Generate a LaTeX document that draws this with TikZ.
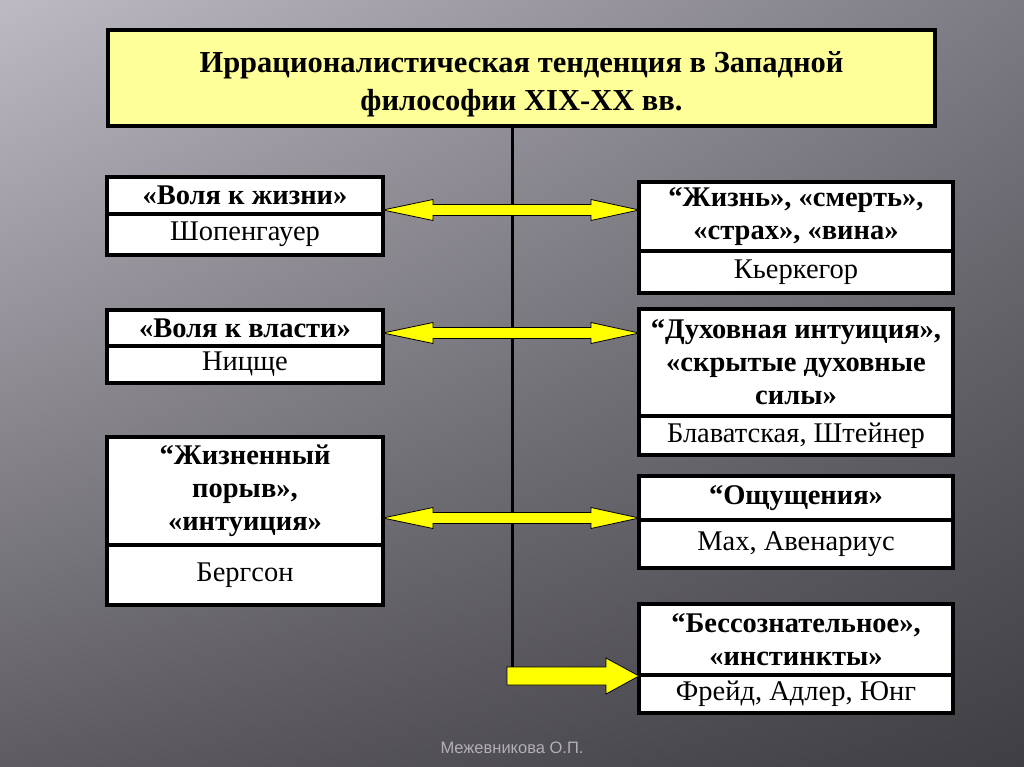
\documentclass[tikz,border=0pt]{standalone}
\usepackage{fontspec}
\setmainfont{Liberation Serif}
\setsansfont{Liberation Sans}
\usetikzlibrary{calc,shadings}
\definecolor{titlefill}{HTML}{FFFF99}
\definecolor{arrowfill}{HTML}{FFFF00}
\definecolor{bgA}{HTML}{BEBAC4}
\definecolor{bgB}{HTML}{7C7A82}
\definecolor{bgC}{HTML}{5E5C62}
\definecolor{bgD}{HTML}{3F3E43}
\definecolor{footer}{HTML}{B2B0B6}
\tikzset{
  boxbase/.style={draw=black, fill=white, line width=3.5pt, outer sep=0pt, inner sep=2pt, align=flush center},
  topbox/.style={boxbase, font=\fontsize{28.5}{33}\selectfont\bfseries},
  botbox/.style={boxbase, font=\fontsize{28.5}{33}\selectfont},
  leftside/.style={minimum width=276pt},
  rightside/.style={minimum width=314pt},
  titlebox/.style={draw=black, fill=titlefill, line width=4.5pt, outer sep=0pt, align=flush center,
     minimum width=827pt, minimum height=96pt, font=\fontsize{30.5}{38}\selectfont\bfseries},
  trunkline/.style={line width=3pt, draw=black},
  yarr/.style={fill=arrowfill, draw=black, line width=0.8pt, line join=miter},
  footertext/.style={text=footer, font=\sffamily\fontsize{16.5}{19}\selectfont}
}
% #1 name, #2 x, #3 y, #4 top height, #5 bottom height, #6 bold text, #7 regular text, #8 side style
\newcommand\twobox[8]{%
  \node[topbox, #8, minimum height=#4pt, anchor=north west] (#1t) at (#2,#3) {#6};
  \node[botbox, #8, minimum height=#5pt, anchor=north] (#1b) at (#1t.south) {#7};}
% #1 left node, #2 right node, #3 y-coordinate name
\newcommand\dblarrow[3]{%
  \coordinate (s) at (#1.east |- #3);
  \coordinate (e) at (#2.west |- #3);
  \draw[yarr] (s) -- ($(s)+(50,-10.5)$) -- ($(s)+(50,-5.5)$) -- ($(e)+(-48,-5.5)$)
    -- ($(e)+(-48,-10.5)$) -- (e) -- ($(e)+(-48,10.5)$) -- ($(e)+(-48,5.5)$)
    -- ($(s)+(50,5.5)$) -- ($(s)+(50,10.5)$) -- cycle;}
\begin{document}
\begin{tikzpicture}[x=1pt, y=-1pt]
  \useasboundingbox (0,0) rectangle (1024,767);
  \shade[upper left=bgA, upper right=bgB, lower left=bgC, lower right=bgD] (0,0) rectangle (1024,767);

  % title
  \node[titlebox, anchor=north west] (title) at (108,30)
    {\rule{0pt}{33pt}Иррационалистическая тенденция в Западной\\философии XIX-XX вв.};

  % left boxes
  \twobox{L1}{107}{177}{37}{41}{«Воля к жизни»}{Шопенгауер}{leftside}
  \twobox{L2}{107}{310}{36}{37}{«Воля к власти»}{Ницще}{leftside}
  \twobox{L3}{107}{437}{108}{60}{“Жизненный\\порыв»,\\«интуиция»}{Бергсон}{leftside}

  % right boxes
  \twobox{R1}{639}{182}{69}{42}{“Жизнь», «смерть»,\\«страх», «вина»}{Кьеркегор}{rightside}
  \twobox{R2}{639}{309}{107}{39}{“Духовная интуиция»,\\«скрытые духовные\\силы»}{Блаватская, Штейнер}{rightside}
  \twobox{R3}{639}{476}{44}{48}{“Ощущения»}{Мах, Авенариус}{rightside}
  \twobox{R4}{639}{604}{71}{38}{“Бессознательное»,\\«инстинкты»}{Фрейд, Адлер, Юнг}{rightside}

  % trunk
  \coordinate (trunk) at (512,676);
  \draw[trunkline] (title.south -| trunk) -- (trunk);

  % arrows
  \coordinate (ya1) at (0,210);
  \coordinate (ya2) at (0,333);
  \coordinate (ya3) at (0,518);
  \dblarrow{L1t}{R1t}{ya1}
  \dblarrow{L2t}{R2t}{ya2}
  \dblarrow{L3t}{R3t}{ya3}

  \coordinate (tail) at (507,676);
  \coordinate (tip) at (R4t.west |- tail);
  \draw[yarr] ($(tail)+(0,-9)$) -- ($(tip)+(-33,-9)$) -- ($(tip)+(-33,-18)$) -- (tip)
    -- ($(tip)+(-33,18)$) -- ($(tip)+(-33,9)$) -- ($(tail)+(0,9)$) -- cycle;

  % footer
  \node[footertext] (foot) at (512,748) {Межевникова О.П.};
\end{tikzpicture}
\end{document}
